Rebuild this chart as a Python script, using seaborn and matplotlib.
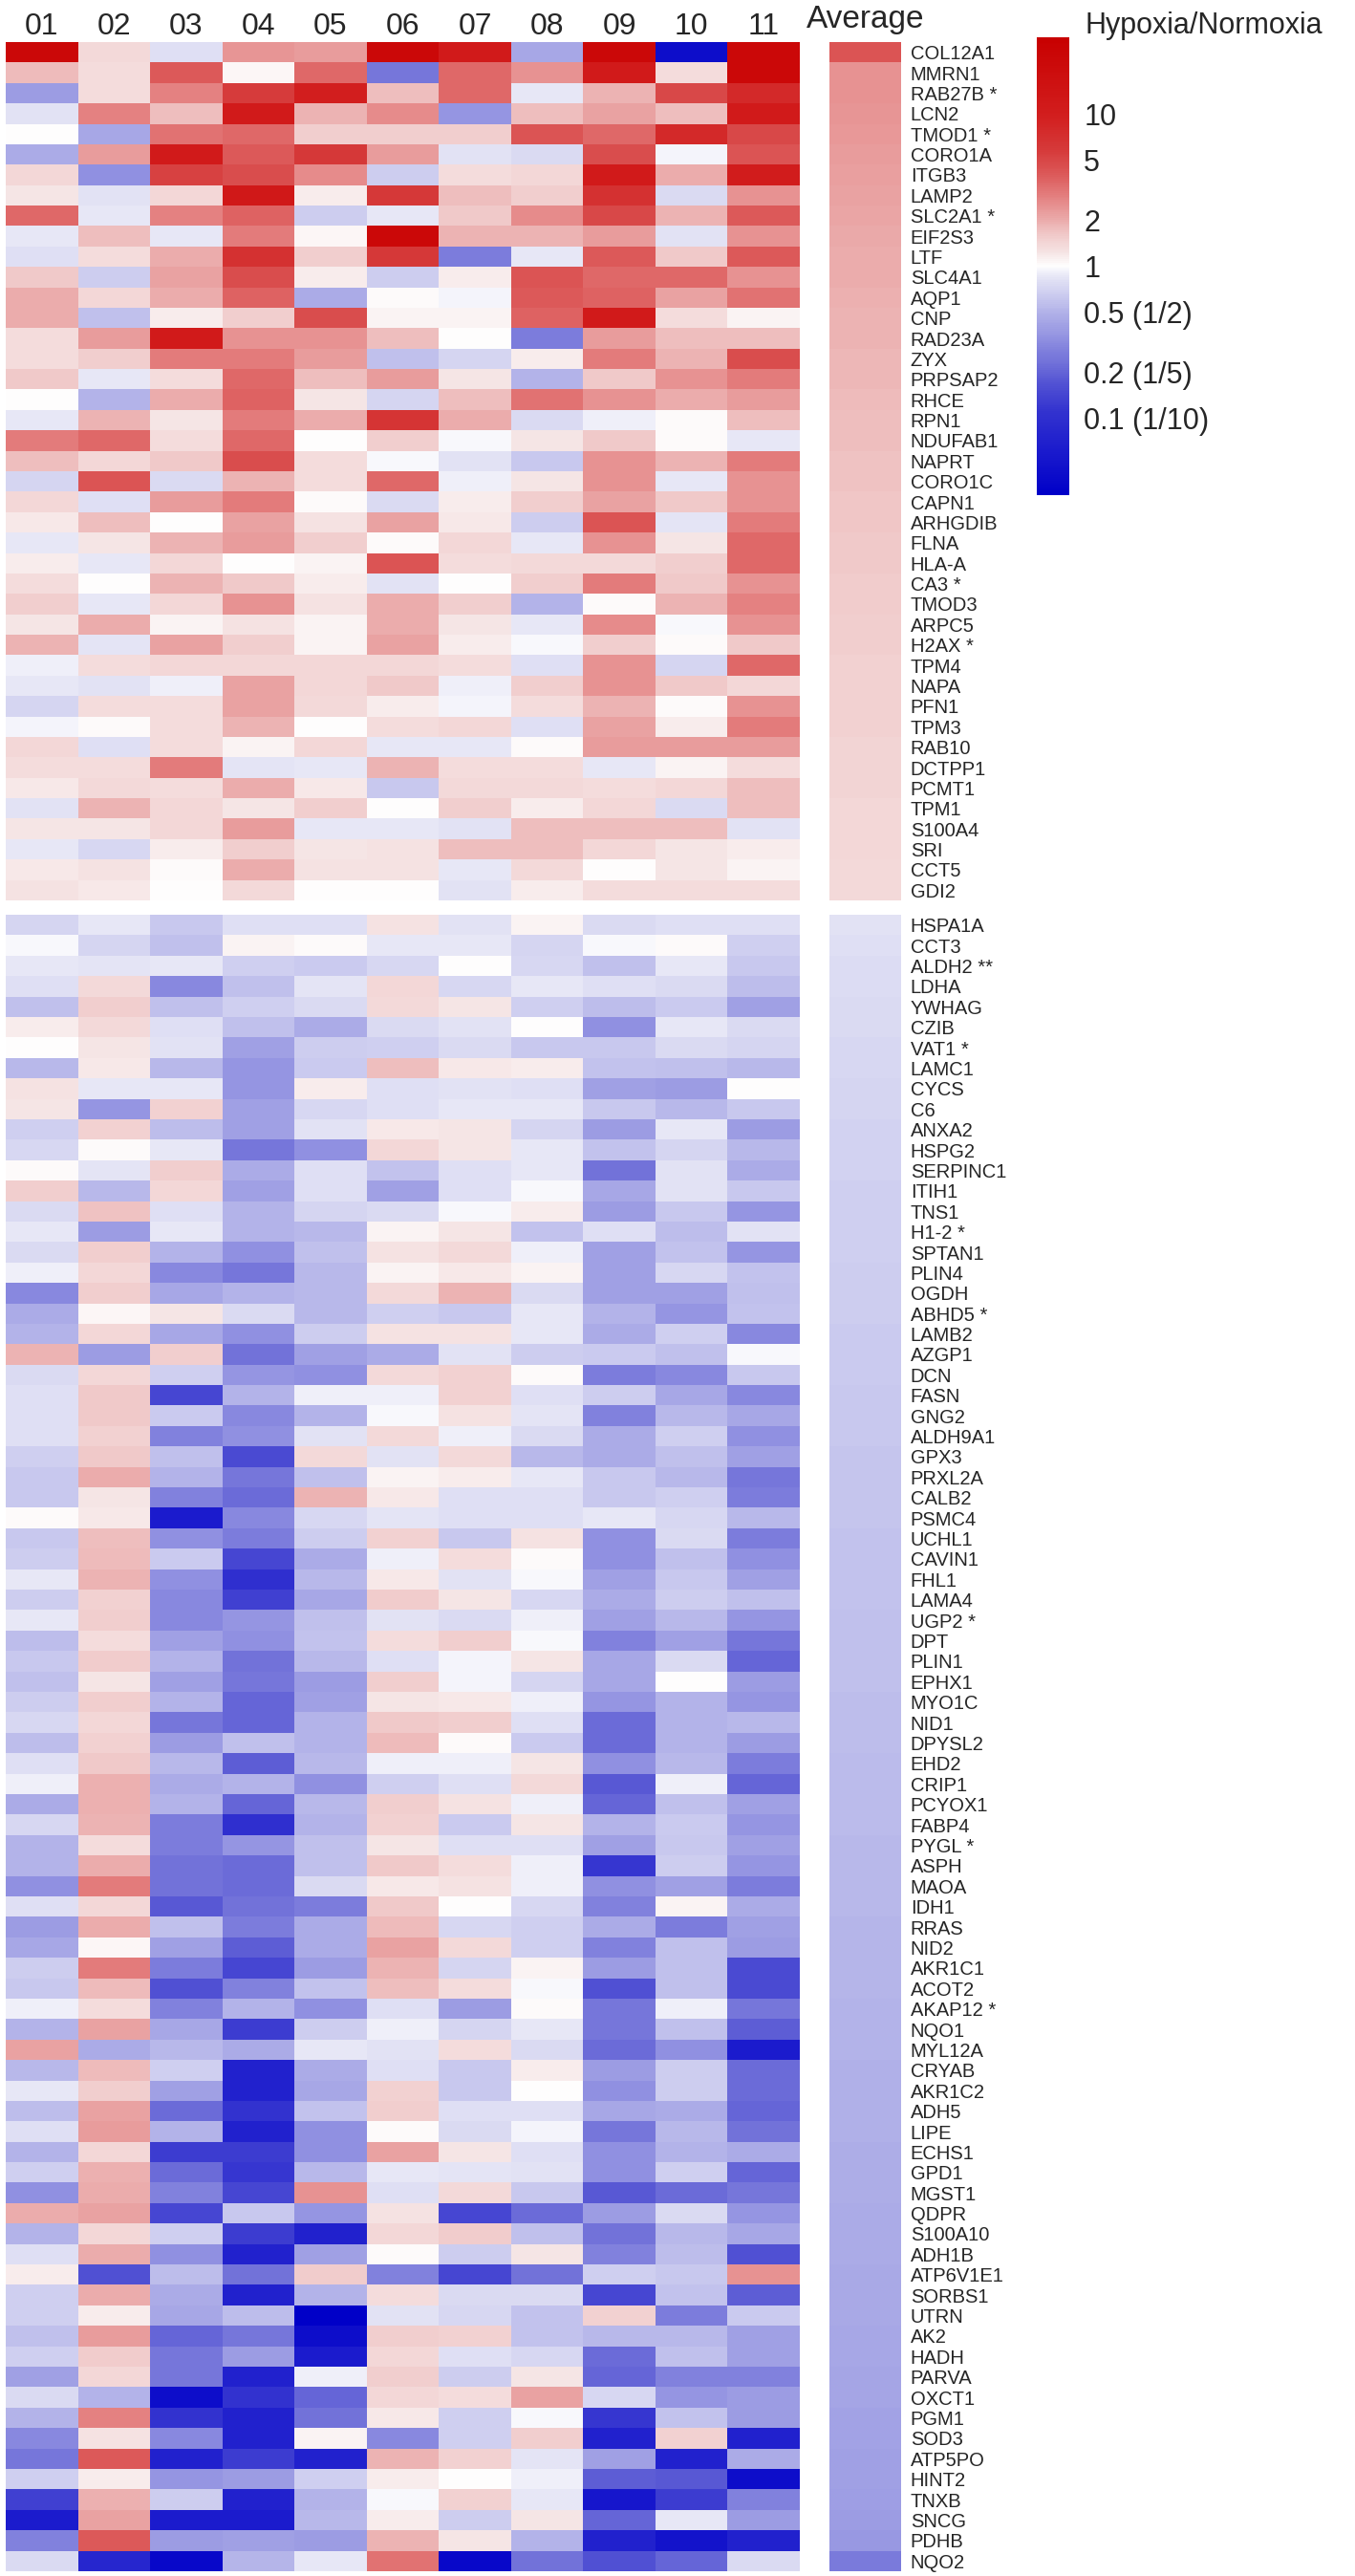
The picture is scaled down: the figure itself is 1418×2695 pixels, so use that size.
import numpy as np
import pandas as pd
import matplotlib
matplotlib.use('Agg')
import matplotlib.pyplot as plt
import seaborn as sns
from matplotlib.colors import LinearSegmentedColormap

# samples and genes
samples = ['01', '02', '03', '04', '05', '06', '07', '08', '09', '10', '11']

up_genes = ['COL12A1', 'MMRN1', 'RAB27B *', 'LCN2', 'TMOD1 *', 'CORO1A', 'ITGB3', 'LAMP2',
            'SLC2A1 *', 'EIF2S3', 'LTF', 'SLC4A1', 'AQP1', 'CNP', 'RAD23A', 'ZYX', 'PRPSAP2',
            'RHCE', 'RPN1', 'NDUFAB1', 'NAPRT', 'CORO1C', 'CAPN1', 'ARHGDIB', 'FLNA', 'HLA-A',
            'CA3 *', 'TMOD3', 'ARPC5', 'H2AX *', 'TPM4', 'NAPA', 'PFN1', 'TPM3', 'RAB10',
            'DCTPP1', 'PCMT1', 'TPM1', 'S100A4', 'SRI', 'CCT5', 'GDI2']

down_genes = ['HSPA1A', 'CCT3', 'ALDH2 **', 'LDHA', 'YWHAG', 'CZIB', 'VAT1 *', 'LAMC1', 'CYCS',
              'C6', 'ANXA2', 'HSPG2', 'SERPINC1', 'ITIH1', 'TNS1', 'H1-2 *', 'SPTAN1', 'PLIN4',
              'OGDH', 'ABHD5 *', 'LAMB2', 'AZGP1', 'DCN', 'FASN', 'GNG2', 'ALDH9A1', 'GPX3',
              'PRXL2A', 'CALB2', 'PSMC4', 'UCHL1', 'CAVIN1', 'FHL1', 'LAMA4', 'UGP2 *', 'DPT',
              'PLIN1', 'EPHX1', 'MYO1C', 'NID1', 'DPYSL2', 'EHD2', 'CRIP1', 'PCYOX1', 'FABP4',
              'PYGL *', 'ASPH', 'MAOA', 'IDH1', 'RRAS', 'NID2', 'AKR1C1', 'ACOT2', 'AKAP12 *',
              'NQO1', 'MYL12A', 'CRYAB', 'AKR1C2', 'ADH5', 'LIPE', 'ECHS1', 'GPD1', 'MGST1',
              'QDPR', 'S100A10', 'ADH1B', 'ATP6V1E1', 'SORBS1', 'UTRN', 'AK2', 'HADH', 'PARVA',
              'OXCT1', 'PGM1', 'SOD3', 'ATP5PO', 'HINT2', 'TNXB', 'SNCG', 'PDHB', 'NQO2']

# log2(hypoxia/normoxia)
up_values = [
    [4.5, 0.45, -0.35, 1.25, 1.2, 4.5, 3.5, -1.2, 4.5, -4.5, 4.5],
    [0.85, 0.4, 2.0, 0.1, 1.8, -2.0, 1.8, 1.3, 3.5, 0.4, 4.5],
    [-1.4, 0.4, 1.5, 2.5, 3.3, 0.8, 1.8, -0.2, 0.9, 2.3, 3.0],
    [-0.3, 1.5, 0.8, 3.5, 0.9, 1.4, -1.5, 0.8, 1.1, 0.8, 3.5],
    [0.0, -1.2, 1.7, 1.8, 0.6, 0.6, 0.6, 2.1, 1.8, 3.0, 2.3],
    [-1.1, 1.2, 3.5, 2.0, 2.6, 1.2, -0.3, -0.4, 2.2, -0.1, 2.1],
    [0.5, -1.6, 2.4, 2.2, 1.4, -0.6, 0.4, 0.5, 3.5, 1.0, 3.4],
    [0.3, -0.3, 0.5, 3.6, 0.2, 2.6, 0.8, 0.6, 2.8, -0.4, 1.3],
    [1.8, -0.2, 1.5, 1.9, -0.6, -0.2, 0.7, 1.4, 2.3, 0.9, 2.0],
    [-0.2, 0.8, -0.2, 1.6, 0.1, 4.5, 0.9, 0.9, 1.2, -0.3, 1.3],
    [-0.35, 0.4, 1.0, 2.8, 0.6, 2.6, -1.9, -0.2, 2.0, 0.7, 2.0],
    [0.7, -0.6, 1.1, 2.2, 0.2, -0.6, 0.2, 2.1, 1.8, 1.8, 1.3],
    [1.0, 0.5, 1.0, 1.9, -1.1, 0.05, -0.1, 2.0, 1.9, 1.1, 1.7],
    [1.0, -0.8, 0.2, 0.6, 2.2, 0.15, 0.15, 1.9, 3.5, 0.4, 0.15],
    [0.4, 1.2, 3.5, 1.3, 1.3, 0.8, 0.0, -1.9, 1.2, 0.8, 0.8],
    [0.4, 0.6, 1.6, 1.6, 1.2, -0.8, -0.5, 0.2, 1.6, 0.9, 2.2],
    [0.7, -0.2, 0.4, 1.8, 0.8, 1.2, 0.3, -1.0, 0.7, 1.3, 1.6],
    [0.0, -1.0, 1.0, 1.9, 0.3, -0.5, 0.8, 1.7, 1.3, 1.0, 1.2],
    [-0.2, 0.9, 0.3, 1.6, 1.0, 2.7, 1.0, -0.4, -0.15, 0.05, 0.8],
    [1.6, 1.8, 0.4, 1.8, 0.0, 0.6, -0.05, 0.3, 0.7, 0.05, -0.2],
    [0.8, 0.5, 0.7, 2.2, 0.4, -0.05, -0.3, -0.7, 1.3, 0.9, 1.6],
    [-0.5, 2.1, -0.4, 0.9, 0.4, 1.8, -0.15, 0.3, 1.3, -0.2, 1.3],
    [0.5, -0.35, 1.2, 1.6, 0.05, -0.4, 0.2, 0.6, 1.1, 0.7, 1.3],
    [0.25, 0.8, 0.0, 1.1, 0.35, 1.1, 0.25, -0.6, 2.1, -0.25, 1.6],
    [-0.2, 0.3, 0.9, 1.2, 0.6, 0.05, 0.5, -0.2, 1.3, 0.3, 1.8],
    [0.2, -0.2, 0.5, 0.0, 0.15, 2.1, 0.4, 0.45, 0.45, 0.6, 1.8],
    [0.4, 0.0, 0.9, 0.7, 0.2, -0.3, 0.0, 0.6, 1.6, 0.7, 1.3],
    [0.6, -0.2, 0.5, 1.3, 0.35, 1.0, 0.6, -1.0, 0.05, 0.9, 1.5],
    [0.3, 1.0, 0.15, 0.35, 0.15, 1.0, 0.3, -0.2, 1.4, -0.05, 1.3],
    [0.9, -0.25, 1.1, 0.6, 0.15, 1.1, 0.2, -0.05, 0.6, 0.05, 0.7],
    [-0.15, 0.4, 0.5, 0.5, 0.5, 0.5, 0.4, -0.35, 1.3, -0.5, 1.8],
    [-0.2, -0.3, -0.15, 1.1, 0.5, 0.7, -0.15, 0.6, 1.3, 0.7, 0.5],
    [-0.5, 0.4, 0.4, 1.1, 0.45, 0.2, -0.1, 0.4, 0.9, 0.05, 1.3],
    [-0.1, 0.05, 0.4, 0.9, 0.0, 0.4, 0.5, -0.35, 1.1, 0.2, 1.6],
    [0.5, -0.35, 0.4, 0.15, 0.5, -0.2, -0.2, 0.05, 1.2, 1.2, 1.2],
    [0.4, 0.4, 1.6, -0.25, -0.2, 0.9, 0.4, 0.4, -0.2, 0.15, 0.4],
    [0.25, 0.45, 0.4, 1.0, 0.25, -0.7, 0.45, 0.45, 0.4, 0.5, 0.8],
    [-0.3, 0.9, 0.5, 0.3, 0.6, 0.0, 0.6, 0.2, 0.5, -0.4, 0.8],
    [0.3, 0.3, 0.5, 1.2, -0.2, -0.2, -0.3, 0.8, 0.8, 0.8, -0.3],
    [-0.2, -0.45, 0.2, 0.6, 0.3, 0.35, 0.8, 0.8, 0.5, 0.3, 0.2],
    [0.25, 0.35, 0.05, 1.0, 0.35, 0.35, -0.2, 0.45, 0.0, 0.3, 0.15],
    [0.35, 0.25, 0.0, 0.45, 0.0, 0.0, -0.3, 0.2, 0.4, 0.4, 0.4],
]

up_average = [2.1, 1.3, 1.3, 1.27, 1.24, 1.2, 1.15, 1.12, 1.08, 1.05, 1.0, 0.98, 0.95, 0.92,
              0.9, 0.88, 0.86, 0.84, 0.82, 0.8, 0.78, 0.76, 0.74, 0.72, 0.7, 0.68, 0.66, 0.64,
              0.62, 0.6, 0.58, 0.57, 0.56, 0.55, 0.54, 0.53, 0.52, 0.5, 0.49, 0.48, 0.46, 0.45]

down_values = [
    [-0.5, -0.2, -0.7, -0.35, -0.35, 0.35, -0.3, 0.15, -0.4, -0.35, -0.35],
    [-0.05, -0.5, -0.8, 0.15, 0.05, -0.2, -0.2, -0.5, -0.05, 0.05, -0.55],
    [-0.2, -0.25, -0.2, -0.55, -0.65, -0.45, 0.0, -0.45, -0.8, -0.2, -0.7],
    [-0.35, 0.45, -1.7, -0.8, -0.25, 0.5, -0.45, -0.2, -0.35, -0.4, -0.85],
    [-0.8, 0.6, -0.8, -0.55, -0.4, 0.45, 0.3, -0.55, -0.85, -0.65, -1.3],
    [0.2, 0.45, -0.35, -0.8, -1.1, -0.4, -0.3, 0.0, -1.6, -0.2, -0.4],
    [0.0, 0.3, -0.3, -1.3, -0.6, -0.55, -0.4, -0.7, -0.7, -0.4, -0.5],
    [-0.9, 0.25, -0.9, -1.5, -0.65, 0.8, 0.25, 0.2, -0.75, -0.8, -0.9],
    [0.35, -0.2, -0.2, -1.5, 0.2, -0.35, -0.3, -0.35, -1.3, -1.4, 0.0],
    [0.3, -1.5, 0.55, -1.3, -0.45, -0.35, -0.2, -0.2, -0.7, -0.9, -0.7],
    [-0.55, 0.55, -0.85, -1.3, -0.3, 0.25, 0.3, -0.5, -1.4, -0.2, -1.4],
    [-0.45, 0.05, -0.2, -2.0, -1.6, 0.5, 0.3, -0.2, -0.75, -0.5, -0.9],
    [0.05, -0.25, 0.6, -1.1, -0.35, -0.75, -0.35, -0.2, -2.1, -0.3, -1.1],
    [0.6, -0.9, 0.5, -1.3, -0.35, -1.3, -0.35, -0.05, -1.2, -0.3, -0.7],
    [-0.4, 0.75, -0.35, -1.0, -0.5, -0.4, -0.05, 0.2, -1.4, -0.7, -1.5],
    [-0.2, -1.4, -0.2, -1.0, -0.9, 0.15, 0.3, -0.75, -0.35, -0.85, -0.3],
    [-0.4, 0.6, -1.0, -1.6, -0.8, 0.35, 0.45, -0.15, -1.3, -0.75, -1.5],
    [-0.15, 0.5, -1.7, -2.0, -0.9, 0.15, 0.25, 0.15, -1.3, -0.45, -0.75],
    [-1.7, 0.6, -1.2, -1.0, -0.9, 0.45, 0.9, -0.4, -1.3, -1.3, -0.8],
    [-1.1, 0.1, 0.3, -0.4, -0.9, -0.55, -0.7, -0.2, -1.0, -1.5, -0.75],
    [-1.0, 0.5, -1.2, -1.6, -0.6, 0.35, 0.35, -0.2, -1.1, -0.55, -1.7],
    [0.9, -1.4, 0.6, -2.1, -1.3, -1.1, -0.3, -0.6, -0.65, -0.8, -0.05],
    [-0.4, 0.5, -0.55, -1.5, -1.6, 0.45, 0.55, 0.05, -1.9, -1.7, -0.7],
    [-0.35, 0.7, -2.8, -1.0, -0.15, -0.15, 0.55, -0.35, -0.6, -1.2, -1.7],
    [-0.35, 0.7, -0.65, -1.7, -1.0, -0.05, 0.35, -0.25, -1.8, -0.9, -1.2],
    [-0.35, 0.55, -1.8, -1.6, -0.3, 0.45, -0.15, -0.4, -1.1, -0.55, -1.6],
    [-0.55, 0.7, -0.8, -2.7, 0.45, -0.3, 0.45, -0.9, -1.1, -0.8, -1.3],
    [-0.7, 1.0, -1.0, -2.0, -0.8, 0.15, 0.2, -0.2, -0.7, -0.9, -2.0],
    [-0.7, 0.3, -1.8, -2.2, 0.9, 0.25, -0.35, -0.35, -0.7, -0.55, -1.9],
    [0.05, 0.25, -4.0, -1.7, -0.45, -0.25, -0.35, -0.35, -0.2, -0.45, -0.9],
    [-0.7, 0.8, -1.6, -1.9, -0.6, 0.55, -0.7, 0.35, -1.6, -0.4, -1.9],
    [-0.6, 0.85, -0.65, -2.8, -1.1, -0.15, 0.4, 0.05, -1.6, -0.8, -1.6],
    [-0.2, 0.9, -1.6, -3.3, -0.9, 0.25, -0.3, -0.05, -1.3, -0.7, -1.3],
    [-0.6, 0.55, -1.7, -2.9, -1.2, 0.65, 0.3, -0.45, -1.1, -0.6, -0.8],
    [-0.2, 0.6, -1.7, -1.5, -0.8, -0.3, -0.4, -0.15, -1.3, -0.9, -1.5],
    [-0.85, 0.4, -1.3, -1.6, -0.75, 0.4, 0.6, -0.05, -1.8, -1.3, -2.0],
    [-0.7, 0.65, -1.0, -2.1, -0.9, -0.35, -0.1, 0.3, -1.2, -0.4, -2.3],
    [-0.8, 0.3, -1.3, -2.0, -1.4, 0.6, -0.1, -0.5, -1.2, 0.0, -1.4],
    [-0.6, 0.6, -1.0, -2.3, -1.3, 0.3, 0.25, -0.15, -1.5, -1.0, -1.5],
    [-0.45, 0.5, -2.0, -2.3, -1.0, 0.7, 0.6, -0.35, -2.2, -1.0, -0.9],
    [-0.85, 0.55, -1.4, -0.8, -1.0, 0.85, 0.05, -0.65, -2.2, -1.0, -1.4],
    [-0.35, 0.7, -0.9, -2.4, -0.9, -0.15, -0.15, 0.3, -1.6, -0.9, -1.9],
    [-0.15, 0.95, -1.1, -1.0, -1.6, -0.55, -0.35, 0.45, -2.5, -0.15, -2.3],
    [-1.1, 0.95, -1.0, -2.3, -0.9, 0.6, 0.35, -0.15, -2.3, -0.8, -1.3],
    [-0.45, 0.9, -1.9, -3.3, -1.0, 0.55, -0.65, 0.3, -1.0, -0.65, -1.5],
    [-1.0, 0.4, -1.9, -1.5, -0.8, 0.3, -0.35, -0.35, -1.3, -0.7, -1.3],
    [-1.0, 1.0, -2.1, -2.2, -0.8, 0.7, 0.4, -0.15, -3.1, -0.6, -1.5],
    [-1.6, 1.6, -2.1, -2.2, -0.4, 0.25, 0.35, -0.15, -1.6, -1.3, -1.9],
    [-0.35, 0.5, -2.5, -2.1, -1.9, 0.7, 0.0, -0.45, -1.8, 0.15, -1.1],
    [-1.4, 1.0, -0.8, -1.9, -1.1, 0.85, -0.45, -0.55, -1.1, -1.9, -1.3],
    [-1.2, 0.1, -1.3, -2.4, -1.1, 1.1, 0.45, -0.55, -1.8, -0.8, -1.4],
    [-0.6, 1.6, -1.9, -2.8, -1.4, 0.9, -0.5, 0.15, -1.4, -0.8, -2.7],
    [-0.7, 0.85, -2.6, -1.8, -0.75, 0.8, 0.4, -0.05, -2.6, -0.8, -2.7],
    [-0.15, 0.4, -1.8, -1.0, -1.6, -0.35, -1.4, 0.05, -2.0, -0.15, -2.0],
    [-1.0, 1.1, -1.2, -3.0, -0.6, -0.15, -0.5, -0.2, -2.0, -0.8, -2.4],
    [1.1, -1.1, -0.9, -1.1, -0.2, -0.3, 0.4, -0.4, -2.2, -1.6, -4.0],
    [-0.9, 0.85, -0.55, -3.8, -1.1, -0.35, -0.7, 0.2, -1.4, -0.6, -2.2],
    [-0.2, 0.6, -1.3, -3.8, -1.2, 0.55, -0.7, 0.0, -1.6, -0.6, -2.2],
    [-0.85, 1.1, -2.2, -3.2, -0.75, 0.6, -0.35, -0.35, -1.2, -1.1, -2.3],
    [-0.35, 1.2, -1.0, -3.8, -1.6, 0.05, -0.4, -0.1, -2.0, -0.9, -2.1],
    [-1.0, 0.5, -3.0, -3.0, -1.6, 1.1, 0.3, -0.35, -1.6, -1.0, -1.1],
    [-0.55, 0.95, -2.2, -3.1, -0.9, -0.2, -0.25, -0.3, -1.6, -0.55, -2.3],
    [-1.6, 1.0, -1.8, -2.8, 1.3, -0.35, 0.45, -0.7, -2.5, -2.2, -2.0],
    [1.0, 1.1, -2.8, -0.7, -1.5, 0.35, -2.8, -2.2, -1.4, -0.4, -1.5],
    [-1.0, 0.5, -0.55, -3.0, -3.8, 0.5, 0.65, -0.8, -2.1, -0.9, -1.2],
    [-0.35, 1.0, -1.6, -3.8, -1.3, 0.05, -0.6, 0.3, -1.8, -0.85, -2.6],
    [0.2, -2.6, -0.85, -2.1, 0.65, -1.8, -2.8, -2.1, -0.55, -0.7, 1.3],
    [-0.55, 1.0, -1.1, -3.8, -1.0, 0.4, -0.4, -0.4, -2.8, -0.75, -2.4],
    [-0.55, 0.2, -1.2, -0.85, -5.0, -0.3, -0.45, -0.75, 0.55, -1.9, -0.65],
    [-0.8, 1.2, -2.3, -2.0, -4.5, 0.6, 0.55, -0.75, -0.9, -0.9, -1.3],
    [-0.55, 0.65, -2.0, -1.4, -4.0, 0.5, -0.35, -0.45, -2.2, -0.8, -1.3],
    [-1.3, 0.5, -2.0, -3.8, -0.15, 0.6, -0.6, 0.3, -2.3, -1.8, -1.8],
    [-0.4, -1.0, -4.5, -3.2, -2.3, 0.5, 0.4, 1.1, -0.45, -1.5, -1.4],
    [-1.0, 1.5, -3.2, -3.8, -2.1, 0.25, -0.55, -0.05, -3.1, -0.75, -1.4],
    [-1.7, 0.35, -1.7, -3.8, 0.15, -1.7, -0.55, 0.6, -3.8, 0.55, -3.8],
    [-2.0, 2.0, -3.8, -3.0, -3.8, 0.9, 0.55, -0.25, -1.3, -3.8, -1.1],
    [-0.55, 0.2, -1.5, -1.4, -0.55, 0.2, 0.0, -0.15, -2.4, -2.5, -4.5],
    [-2.9, 0.95, -0.6, -3.8, -1.0, -0.05, 0.55, -0.2, -4.2, -3.0, -1.8],
    [-4.0, 1.1, -4.0, -4.0, -0.9, 0.2, -0.6, 0.3, -2.3, -0.2, -1.4],
    [-1.8, 2.0, -1.4, -1.3, -1.4, 0.9, 0.3, -1.0, -3.8, -4.3, -3.8],
    [-0.4, -3.6, -4.7, -0.95, -0.2, 1.7, -4.7, -2.1, -2.6, -2.3, -0.4],
]

down_average = [-0.3, -0.33, -0.36, -0.38, -0.4, -0.42, -0.44, -0.46, -0.48, -0.5,
                -0.51, -0.52, -0.53, -0.55, -0.56, -0.57, -0.58, -0.6, -0.61, -0.62,
                -0.63, -0.65, -0.66, -0.67, -0.68, -0.7, -0.71, -0.72, -0.73, -0.74,
                -0.75, -0.76, -0.77, -0.78, -0.79, -0.8, -0.81, -0.82, -0.83, -0.84,
                -0.85, -0.86, -0.87, -0.88, -0.89, -0.9, -0.91, -0.92, -0.93, -0.94,
                -0.95, -0.96, -0.97, -0.98, -0.99, -1.0, -1.02, -1.03, -1.04, -1.05,
                -1.06, -1.07, -1.08, -1.1, -1.11, -1.12, -1.14, -1.15, -1.16, -1.18,
                -1.2, -1.22, -1.24, -1.26, -1.28, -1.3, -1.32, -1.36, -1.4, -1.45, -1.95]

ratio_ticks = [10, 5, 2, 1, 0.5, 0.2, 0.1]
ratio_labels = ['10', '5', '2', '1', '0.5 (1/2)', '0.2 (1/5)', '0.1 (1/10)']

up_df = pd.DataFrame(up_values, index=up_genes, columns=samples)
down_df = pd.DataFrame(down_values, index=down_genes, columns=samples)
up_avg_df = pd.DataFrame({'Average': up_average}, index=up_genes)
down_avg_df = pd.DataFrame({'Average': down_average}, index=down_genes)

# colour scale, saturates quickly like the original bar
stops = [(-5.0, (0, 0, 200)), (-4.0, (28, 28, 205)), (-3.2, (50, 50, 207)),
         (-2.6, (80, 80, 211)), (-2.2, (108, 108, 216)), (-1.8, (130, 130, 221)),
         (-1.5, (150, 150, 226)), (-1.1, (172, 172, 231)), (-0.8, (192, 192, 236)),
         (-0.5, (212, 212, 241)), (-0.2, (232, 232, 246)), (0.0, (255, 255, 255)),
         (0.3, (245, 228, 228)), (0.7, (240, 200, 200)), (1.0, (235, 172, 172)),
         (1.5, (228, 130, 130)), (2.0, (220, 90, 90)), (2.5, (214, 60, 60)),
         (3.3, (210, 30, 30)), (5.0, (200, 0, 0))]
cmap = LinearSegmentedColormap.from_list(
    'hypoxia', [((v + 5) / 10, tuple(c / 255 for c in col)) for v, col in stops])

sns.set_style('white')
plt.rcParams['font.family'] = ['Liberation Sans', 'DejaVu Sans']

W, H = 1418, 2695
fig = plt.figure(figsize=(W / 100, H / 100), dpi=100)


def px_axes(x0, y0, x1, y1):
    return fig.add_axes([x0 / W, 1 - y1 / H, (x1 - x0) / W, (y1 - y0) / H])


ax_up = px_axes(6, 44, 837, 942)
ax_down = px_axes(6, 957, 837, 2690)
ax_up_avg = px_axes(868, 44, 943, 942)
ax_down_avg = px_axes(868, 957, 943, 2690)
cax = px_axes(1085, 39, 1119, 518)

kw = dict(cmap=cmap, vmin=-5, vmax=5, linewidths=0)

sns.heatmap(up_df, ax=ax_up, cbar=False, xticklabels=True, yticklabels=False, **kw)
ax_up.xaxis.tick_top()
ax_up.tick_params(axis='x', length=0, pad=1, labelsize=23, labelrotation=0)
ax_up.set_xlabel('')

sns.heatmap(down_df, ax=ax_down, cbar=False, xticklabels=False, yticklabels=False, **kw)

sns.heatmap(up_avg_df, ax=ax_up_avg, cbar=True, cbar_ax=cax,
            cbar_kws={'ticks': np.log2(ratio_ticks)},
            xticklabels=True, yticklabels=True, **kw)
ax_up_avg.xaxis.tick_top()
ax_up_avg.tick_params(axis='x', length=0, pad=6, labelsize=24, labelrotation=0)
ax_up_avg.yaxis.tick_right()
ax_up_avg.tick_params(axis='y', length=0, pad=7, labelsize=14.5, labelrotation=0)

sns.heatmap(down_avg_df, ax=ax_down_avg, cbar=False, xticklabels=False,
            yticklabels=True, **kw)
ax_down_avg.yaxis.tick_right()
ax_down_avg.tick_params(axis='y', length=0, pad=7, labelsize=14.5, labelrotation=0)

cbar = ax_up_avg.collections[0].colorbar
cbar.outline.set_visible(False)
cbar.set_ticklabels(ratio_labels)
cax.tick_params(length=0, pad=11, labelsize=22)

fig.text(1135 / W, 1 - 27 / H, 'Hypoxia/Normoxia', fontsize=22, ha='left', va='center')

fig.savefig('out.png', dpi=100)
